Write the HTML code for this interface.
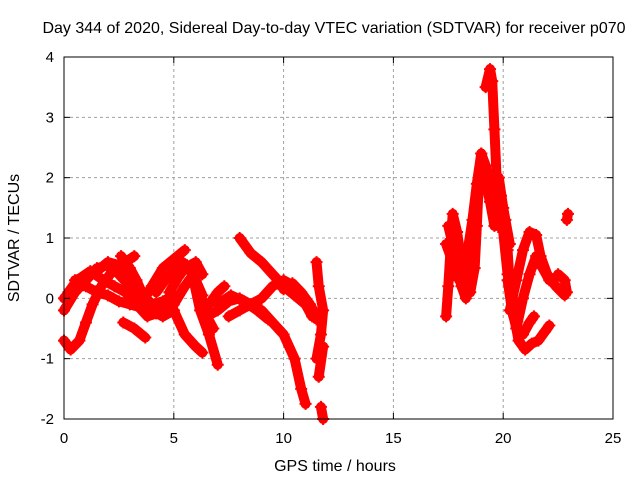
<!DOCTYPE html>
<html><head><meta charset="utf-8"><style>
body{margin:0;background:#fff}
svg{display:block;font-family:"Liberation Sans",sans-serif}
</style></head><body>
<svg id="chart" width="640" height="480" viewBox="0 0 640 480">
<rect width="640" height="480" fill="#fff"/>
<text x="334" y="33" font-size="16" text-anchor="middle">Day 344 of 2020, Sidereal Day-to-day VTEC variation (SDTVAR) for receiver p070</text>
<text x="335" y="471" font-size="16" text-anchor="middle">GPS time / hours</text>
<text x="19" y="238" font-size="16" text-anchor="middle" transform="rotate(-90 19 238)">SDTVAR / TECUs</text>
<g id="grid"></g><g id="marks"></g><g id="axes"></g>
</svg>
<script>
const xTicks=[0,5,10,15,20,25];
const yTicks=[-2,-1,0,1,2,3,4];
const tracks=[
[[0,-0.7],[0.3,-0.85],[0.7,-0.7],[1.0,-0.4],[1.3,-0.1],[1.7,0.2],[2.2,0.45],[2.8,0.6],[3.2,0.7]],
[[0,-0.2],[0.5,0.1],[1,0.3],[1.5,0.5],[2,0.55],[2.5,0.4],[3,0.2],[3.5,0],[4,-0.2],[4.5,-0.3],[5,-0.2]],
[[0,0],[0.5,0.2],[1,0.2],[1.5,0.1],[2,0.05],[2.5,-0.05],[3,-0.1],[3.5,-0.15],[4,-0.1],[4.5,-0.05],[5,0.05]],
[[0.5,0.3],[1,0.35],[1.5,0.45],[2,0.6],[2.5,0.55],[3,0.3],[3.5,0.1],[4,-0.1],[4.5,-0.2],[5,-0.1],[5.5,0.2],[6,0.45]],
[[0.2,0.1],[0.6,0.3],[1.2,0.45],[1.8,0.3],[2.3,0.2],[2.8,0.1],[3.3,-0.1],[3.8,-0.3],[4.2,-0.25]],
[[2.6,0.7],[3,0.5],[3.3,0.3],[3.6,0.05],[4,-0.1]],
[[3.5,-0.1],[4,0.2],[4.5,0.5],[5,0.65],[5.5,0.8]],
[[2.7,-0.4],[3.2,-0.5],[3.7,-0.65]],
[[5,0.3],[5.5,0.5],[6,0.6],[6.3,0.4]],
[[4.2,0.1],[4.6,0.3],[5,0.45],[5.4,0.6]],
[[4.8,0.1],[5.2,0.35],[5.6,0.55],[6,0.3],[6.3,0.05]],
[[5,-0.2],[5.5,-0.6],[6,-0.8],[6.3,-0.9]],
[[5.9,0.3],[6.2,-0.2],[6.6,-0.6],[7,-1.1]],
[[6.2,0.1],[6.5,-0.3],[6.8,-0.5]],
[[6.5,-0.3],[7,-0.2],[7.5,-0.05],[8,0],[8.5,-0.1],[9,-0.2],[9.5,-0.4],[10,-0.6],[10.5,-1.0],[10.8,-1.5],[11,-1.75]],
[[8,1.0],[8.5,0.75],[9,0.6],[9.5,0.4],[10,0.2],[10.5,0.05],[11,-0.1],[11.5,-0.35]],
[[7.5,-0.3],[8,-0.2],[8.5,-0.1],[9,0],[9.5,0.2],[10,0.3],[10.5,0.2],[11,-0.1],[11.3,-0.3]],
[[7,-0.1],[7.6,0.05],[8.2,-0.05],[8.8,-0.2],[9.3,-0.35]],
[[6.6,-0.1],[7,0.1],[7.3,0.2]],
[[10,0.15],[10.4,0.25],[10.8,0.1],[11.2,-0.1],[11.5,-0.3]],
[[11.5,0.6],[11.6,0.2],[11.8,-0.2],[11.7,-0.6],[11.5,-1.0],[11.8,-0.8],[11.6,-1.3]],
[[11.7,-1.8],[11.8,-2]],
[[17.4,-0.3],[17.5,0.2],[17.6,0.8],[17.7,1.4],[17.9,1.1],[18.1,0.6],[18.3,0.3],[18.5,0.1],[18.7,0.5],[18.8,1.2],[18.9,2.0],[19.0,2.4],[19.2,2.2],[19.4,1.8],[19.6,1.8],[19.8,2.0],[20,1.5],[20.2,0.8],[20.3,0.2],[20.5,-0.3],[20.7,-0.7],[21,-0.85],[21.3,-0.75],[21.6,-0.7],[21.9,-0.55],[22.1,-0.45]],
[[17.4,0.9],[17.7,0.6],[18,0.3],[18.3,0.6],[18.6,1.3],[18.8,1.9],[19,2.4],[19.2,1.9],[19.4,1.6],[19.6,1.2],[19.8,1.2]],
[[17.5,1.2],[17.7,0.9],[17.9,0.5],[18.1,0.2],[18.3,0.0],[18.5,0.4],[18.7,0.9]],
[[19.2,3.5],[19.4,3.8],[19.5,3.6],[19.6,2.8],[19.7,2.0],[19.8,1.4],[20,1.1],[20.2,0.4],[20.4,0.0],[20.6,-0.3]],
[[20.3,-0.2],[20.6,0.3],[20.9,0.8],[21.2,1.1],[21.5,1.05],[21.7,0.7],[22,0.4],[22.4,0.2],[22.8,0.05]],
[[20.6,-0.5],[20.9,0.0],[21.2,0.4],[21.5,0.7],[21.8,0.5],[22.1,0.3]],
[[20.2,0.3],[20.4,-0.2],[20.6,-0.5],[20.9,-0.6],[21.2,-0.4],[21.4,-0.3]],
[[22.5,0.4],[22.8,0.3],[22.9,0.1]],
[[22.9,1.3],[22.95,1.4]],
[[18.6,1.2],[18.8,1.7],[19,2.1],[19.3,1.9],[19.6,1.9],[19.9,1.7],[20.1,1.3],[20.3,0.9]]
];
const X0=64,X1=613,Y0=419,Y1=57;
const xs=v=>X0+(v-0)/25*(X1-X0);
const ys=v=>Y0-(v+2)/6*(Y0-Y1);
const NS="http://www.w3.org/2000/svg";
function mk(t,a,p){const e=document.createElementNS(NS,t);for(const k in a)e.setAttribute(k,a[k]);p.appendChild(e);return e;}
const grid=document.getElementById('grid'),axes=document.getElementById('axes'),marks=document.getElementById('marks');
xTicks.forEach(t=>{const x=xs(t);
 if(t>0&&t<25){const g=mk('line',{x1:x,x2:x,y1:Y1,y2:Y0,stroke:'#a0a0a0','stroke-dasharray':'3,3'},grid);
 
 }
 mk('line',{x1:x,x2:x,y1:Y0,y2:Y0-6,stroke:'#000'},axes);
 mk('line',{x1:x,x2:x,y1:Y1,y2:Y1+6,stroke:'#000'},axes);
 const l=mk('text',{x:x,y:Y0+24,'font-size':15,'text-anchor':'middle'},axes);l.textContent=t;
 
 });
yTicks.forEach(t=>{const y=ys(t);
 if(t>-2&&t<4){const g=mk('line',{x1:X0,x2:X1,y1:y,y2:y,stroke:'#a0a0a0','stroke-dasharray':'3,3'},grid);
 
 }
 mk('line',{x1:X0,x2:X0+6,y1:y,y2:y,stroke:'#000'},axes);
 mk('line',{x1:X1,x2:X1-6,y1:y,y2:y,stroke:'#000'},axes);
 const l=mk('text',{x:X0-10,y:y+5,'font-size':15,'text-anchor':'end'},axes);l.textContent=t;
 
 });
const fr=mk('rect',{x:X0,y:Y1,width:X1-X0,height:Y0-Y1,fill:'none',stroke:'#000'},axes);


tracks.forEach(tr=>{
 const pl=mk('polyline',{points:tr.map(p=>xs(p[0])+','+ys(p[1])).join(' '),fill:'none',stroke:'#f00','stroke-width':10,'stroke-linejoin':'round','stroke-linecap':'round'},marks);
 
 
 tr.forEach(p=>{const x=xs(p[0]),y=ys(p[1]);
  const m=mk('path',{d:`M${x-6},${y}H${x+6}M${x},${y-6}V${y+6}`,stroke:'#f00','stroke-width':2},marks);
  
  });
});
</script>
</body></html>
